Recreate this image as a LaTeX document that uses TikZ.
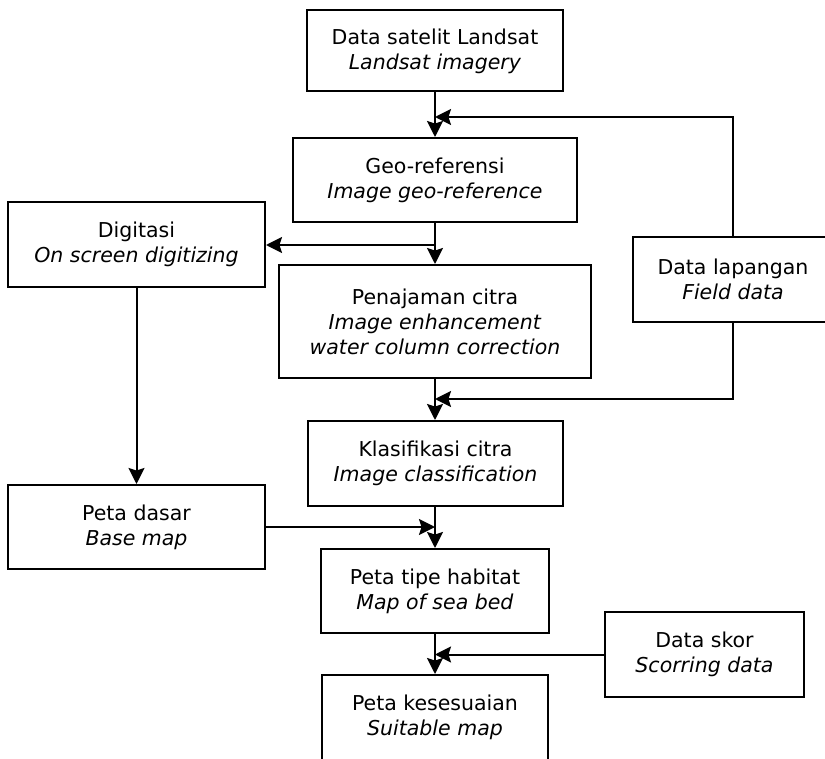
\documentclass[tikz,border=0pt]{standalone}
\usepackage{fontspec}
\setmainfont{DejaVu Sans}
\usepackage{tikz}
\usetikzlibrary{arrows.meta}

\begin{document}
\begin{tikzpicture}[x=1pt, y=-1pt,
    box/.style={draw, line width=2pt, align=center, inner sep=0pt,
      font=\fontsize{20.5}{25}\selectfont},
    >={Stealth[length=16pt, width=16pt, inset=2.5pt]}]
    \path[use as bounding box, clip] (0,0) rectangle (825,759);
    % alur utama
    \node (land) at (435,51) [box, minimum width=256, minimum height=81] {Data satelit Landsat\\ \textit{Landsat imagery}};
    \node (geo) at (435,180) [box, minimum width=284, minimum height=84] {Geo-referensi\\ \textit{Image geo-reference}};
    \node (pen) at (435,321.5) [box, minimum width=312, minimum height=113] {Penajaman citra\\ \textit{Image enhancement}\\ \textit{water column correction}};
    \node (klas) at (435.5,463.5) [box, minimum width=255, minimum height=85] {Klasifikasi citra\\ \textit{Image classification}};
    \node (tipe) at (435,591) [box, minimum width=228, minimum height=84] {Peta tipe habitat\\ \textit{Map of sea bed}};
    \node (sesuai) at (435,717.5) [box, minimum width=226, minimum height=85] {Peta kesesuaian\\ \textit{Suitable map}};
    % kotak samping
    \node (digi) at (136.5,244.5) [box, minimum width=257, minimum height=85] {Digitasi\\ \textit{On screen digitizing}};
    \node (dasar) at (136.5,527) [box, minimum width=257, minimum height=84] {Peta dasar\\ \textit{Base map}};
    \node (lap) at (733,279.5) [box, minimum width=200, minimum height=85] {Data lapangan\\ \textit{Field data}};
    \node (skor) at (704.5,654.5) [box, minimum width=199, minimum height=85] {Data skor\\ \textit{Scorring data}};
    % titik temu
    \coordinate (j1) at (435,117);
    \coordinate (j2) at (435,245);
    \coordinate (j3) at (435,399);
    \coordinate (j4) at (435,527);
    \coordinate (j5) at (435,654.5);
    \begin{scope}[line width=2pt]
      \draw[->] (land) -- (geo);
      \draw[->] (geo) -- (pen);
      \draw[->] (pen) -- (klas.north -| pen);
      \draw[->] (klas.south -| pen) -- (tipe);
      \draw[->] (tipe) -- (sesuai);
      \draw[->] (j2) -- (digi.east |- j2);
      \draw[->] (digi) -- (dasar);
      \draw[->] (lap.north) |- (j1);
      \draw[->] (lap.south) |- (j3);
      \draw[->] (dasar.east) -- (j4);
      \draw[->] (skor.west) -- (j5);
    \end{scope}
\end{tikzpicture}
\end{document}
